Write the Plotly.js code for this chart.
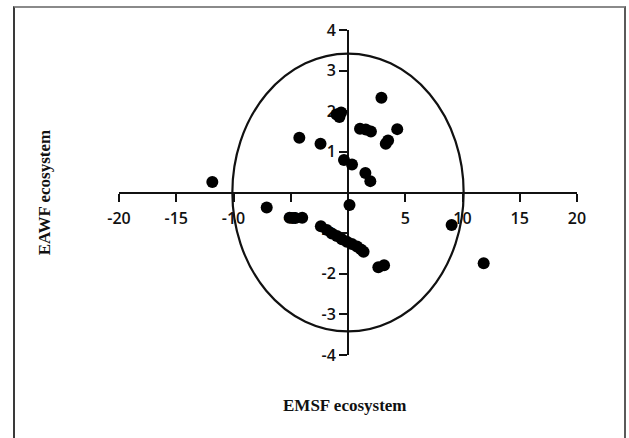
<!DOCTYPE html>
<html>
<head>
<meta charset="utf-8">
<script src="https://cdn.plot.ly/plotly-3.0.1.min.js"></script>
<style>
  html, body { margin: 0; padding: 0; background: #fff; }
  #wrap { position: relative; width: 629px; height: 438px; overflow: hidden; }
  #chart { width: 629px; height: 438px; }
  #frame {
    position: absolute; left: 13px; top: 6px; width: 609px; height: 460px;
    border-left: 2px solid #3a3a3a; border-top: 2px solid #8a8a8a; border-right: 2px solid #5a5a5a;
    pointer-events: none;
  }
</style>
</head>
<body>
<div id="wrap">
  <div id="chart"></div>
  <div id="frame"></div>
</div>
<script>
// Ordination scores: EMSF ecosystem (x) against EAWF ecosystem (y)
const emsf = [
  -11.85, -4.25, -2.40, -1.00, -0.60, -0.75, 2.92, 1.05, 1.55, 2.00,
  4.30, 3.30, 3.50, -0.35, 0.35, 1.52, 1.95,
  -7.10, -5.10, -4.60, -4.00, 0.13,
  -2.37, -1.85, -1.41, -0.97, -0.53, -0.10, 0.34, 0.78, 1.13, 1.36,
  2.65, 3.15, 9.05, 11.85
];
const eawf = [
  0.26, 1.35, 1.20, 1.92, 1.97, 1.86, 2.33, 1.57, 1.55, 1.50,
  1.56, 1.20, 1.28, 0.80, 0.69, 0.48, 0.28,
  -0.37, -0.62, -0.63, -0.62, -0.31,
  -0.83, -0.92, -1.01, -1.07, -1.15, -1.21, -1.27, -1.33, -1.40, -1.46,
  -1.84, -1.79, -0.80, -1.74
];

// Axis ticks (the origin is left unlabelled); labels use a plain hyphen
const xTicks = [-20, -15, -10, -5, 5, 10, 15, 20];
const xTickText = ['-20', '-15', '-10', '-5', '5', '10', '15', '20'];
const yTicks = [-4, -3, -2, -1, 1, 2, 3, 4];
const yTickText = ['-4', '-3', '-2', '-1', '1', '2', '3', '4'];

// Confidence ellipse semi-axes
const ellipseRx = 10.1;
const ellipseRy = 3.42;

const tickFont = { family: 'Open Sans, DejaVu Sans, sans-serif', size: 16, color: '#111', weight: 600 };
const titleFont = { family: 'Liberation Serif, Times New Roman, serif', size: 17, color: '#111' };

const trace = {
  x: emsf, y: eawf, type: 'scatter', mode: 'markers',
  marker: { color: '#000', size: 12 },
  hoverinfo: 'x+y'
};

const axisCommon = {
  showgrid: false, zeroline: false, showline: true,
  linecolor: '#111', linewidth: 2,
  ticks: 'outside', ticklen: 8, tickwidth: 2, tickcolor: '#111',
  tickmode: 'array', tickfont: tickFont,
  anchor: 'free', position: 0.5, layer: 'below traces', fixedrange: true
};

const layout = {
  width: 629, height: 438,
  margin: { l: 119, r: 52, t: 30, b: 83 },
  paper_bgcolor: '#fff', plot_bgcolor: '#fff',
  showlegend: false,
  xaxis: Object.assign({}, axisCommon, { range: [-20, 20], tickvals: xTicks, ticktext: xTickText, ticklabelstandoff: 3 }),
  yaxis: Object.assign({}, axisCommon, { range: [-4, 4], tickvals: yTicks, ticktext: yTickText }),
  shapes: [{
    type: 'circle', xref: 'x', yref: 'y',
    x0: -ellipseRx, x1: ellipseRx, y0: -ellipseRy, y1: ellipseRy,
    line: { color: '#111', width: 2.2 }, layer: 'below'
  }],
  annotations: [
    { text: '<b>EMSF ecosystem</b>', xref: 'paper', yref: 'paper', x: 0.494, y: -0.154,
      showarrow: false, font: titleFont, xanchor: 'center', yanchor: 'middle' },
    { text: '<b>EAWF ecosystem</b>', xref: 'paper', yref: 'paper', x: -0.162, y: 0.5,
      textangle: -90, showarrow: false, font: titleFont, xanchor: 'center', yanchor: 'middle' }
  ]
};

Plotly.newPlot('chart', [trace], layout, { displayModeBar: false, staticPlot: true });
</script>
</body>
</html>
